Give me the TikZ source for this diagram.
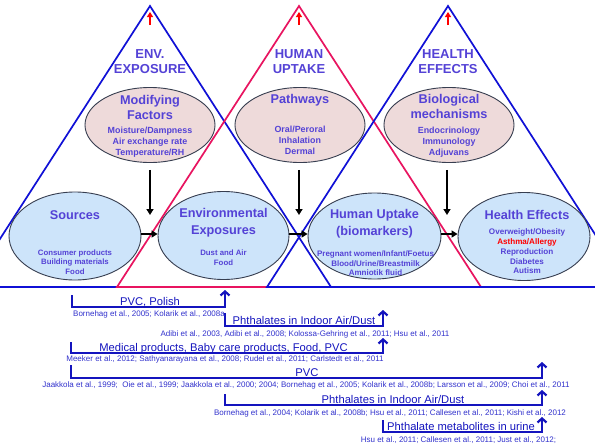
\documentclass[tikz,border=0pt]{standalone}
\usepackage{fontspec}
\setmainfont{Liberation Sans}
\usetikzlibrary{shapes.geometric,arrows.meta}

\definecolor{headblue}{RGB}{84,66,214}
\definecolor{triblue}{RGB}{16,16,214}
\definecolor{tripink}{RGB}{232,20,96}
\definecolor{linkblue}{RGB}{20,20,190}
\definecolor{citeblue}{RGB}{50,50,205}
\definecolor{mechfill}{RGB}{238,218,218}
\definecolor{stagefill}{RGB}{205,228,250}
\definecolor{rimgray}{RGB}{55,62,80}

\tikzset{
  tri/.style={line width=1.7pt, line join=miter},
  heading/.style={font=\fontsize{13}{15}\selectfont\bfseries, text=headblue, align=center, inner sep=0pt},
  mech/.style={ellipse, draw=rimgray, line width=0.9pt, fill=mechfill, minimum width=130pt, minimum height=75pt, inner sep=0pt},
  stage/.style={ellipse, draw=rimgray, line width=0.9pt, fill=stagefill, minimum width=132pt, minimum height=88pt, inner sep=0pt},
  bigtxt/.style={font=\fontsize{12.7}{15}\selectfont\bfseries, text=headblue, align=center, inner sep=0pt},
  bigtxtlow/.style={font=\fontsize{12.7}{17}\selectfont\bfseries, text=headblue, align=center, inner sep=0pt},
  smalltxt/.style={font=\fontsize{8.9}{11}\selectfont\bfseries, text=headblue, align=center, inner sep=0pt},
  subtxt/.style={font=\fontsize{8}{9.6}\selectfont\bfseries, text=headblue, align=center, inner sep=0pt},
  flow/.style={black, line width=2pt, -{Triangle[length=6pt,width=7pt]}},
  apexarrow/.style={red, line width=1.8pt, -{Triangle[length=5pt,width=6pt]}},
  bracket/.style={linkblue, line width=2.2pt, line join=miter, -{Straight Barb[length=4pt,width=9pt]}},
  source/.style={font=\fontsize{11.2}{13}\selectfont, text=linkblue, inner sep=0pt, anchor=base},
  cite/.style={font=\fontsize{8}{9}\selectfont, text=citeblue, inner sep=0pt, anchor=base},
}

\begin{document}
\begin{tikzpicture}[x=1pt,y=-1pt]
\useasboundingbox (0,0) rectangle (595,447);
\fill[white] (0,0) rectangle (595,447);
\clip (0,0) rectangle (595,447);

% three overlapping triangles: exposure, uptake, effects
\draw[tri, triblue] (8,287) -- (331,287) -- (150,6) -- (-31,287) -- cycle;
\draw[tri, tripink] (117,287) -- (481,287) -- (299,6) -- cycle;
\draw[tri, triblue] (267,287) -- (629,287) -- (448,6) -- cycle;

% apex markers
\coordinate (t1lo) at (150,25); \coordinate (t1hi) at (150,12);
\coordinate (t2lo) at (299,25); \coordinate (t2hi) at (299,12);
\coordinate (t3lo) at (448,25); \coordinate (t3hi) at (448,12);
\draw[apexarrow] (t1lo) -- (t1hi);
\draw[apexarrow] (t2lo) -- (t2hi);
\draw[apexarrow] (t3lo) -- (t3hi);

% triangle headings
\node[heading] (h1) at (150,61.5) {ENV.\\EXPOSURE};
\node[heading] (h2) at (299,61.5) {HUMAN\\UPTAKE};
\node[heading] (h3) at (448,61.5) {HEALTH\\EFFECTS};

% upper row: mechanisms
\node[mech] (mf) at (150,125) {};
\node[mech] (pw) at (300,125) {};
\node[mech] (bm) at (449,125) {};
\node[bigtxt] (mft) at (150,107.5) {Modifying\\Factors};
\node[smalltxt] (mfs) at (150,142) {Moisture/Dampness\\Air exchange rate\\Temperature/RH};
\node[bigtxt] (pwt) at (300,100) {Pathways};
\node[smalltxt] (pws) at (300,140) {Oral/Peroral\\Inhalation\\Dermal};
\node[bigtxt] (bmt) at (449,106.5) {Biological\\mechanisms};
\node[smalltxt] (bms) at (449,142) {Endocrinology\\Immunology\\Adjuvans};

% lower row: stages
\node[stage] (src) at (75,236) {};
\node[stage, minimum width=131pt] (env) at (223.5,235.5) {};
\node[stage, minimum width=133pt, minimum height=86pt] (hum) at (374.5,236) {};
\node[stage] (eff) at (524,236.5) {};
\node[bigtxt] (srct) at (75,215) {Sources};
\node[subtxt, font=\fontsize{7.8}{9.5}\selectfont\bfseries] (srcs) at (75,262) {Consumer products\\Building materials\\Food};
\node[bigtxtlow] (envt) at (223.5,222.5) {Environmental\\Exposures};
\node[subtxt, font=\fontsize{7.8}{9.5}\selectfont\bfseries] (envs) at (223.5,257.5) {Dust and Air\\Food};
\node[bigtxtlow] (humt) at (374.5,223.5) {Human Uptake\\(biomarkers)};
\node[subtxt] (hums) at (375.5,263.5) {Pregnant women/Infant/Foetus\\Blood/Urine/Breastmilk\\Amniotik fluid};
\node[bigtxt] (efft) at (527,215) {Health Effects};
\node[subtxt, font=\fontsize{8.1}{9.75}\selectfont\bfseries] (effs) at (527,251.6)
  {Overweight/Obesity\\\textcolor{red}{Asthma/Allergy}\\Reproduction\\Diabetes\\Autism};

% flow arrows
\coordinate (d1) at (150,215);
\coordinate (d2) at (299,215);
\coordinate (d3) at (447,215);
\draw[flow, shorten <=7pt] (mf.south) -- (d1);
\draw[flow, shorten <=7pt] (pw.south -| d2) -- (d2);
\draw[flow, shorten <=7pt] (bm.south -| d3) -- (d3);
\draw[flow] (src.east |- 0,234) -- (env.west |- 0,234);
\draw[flow] (env.east |- 0,234) -- (hum.west |- 0,234);
\draw[flow] (hum.east |- 0,234) -- (eff.west |- 0,234);

% evidence brackets
\coordinate (r1a) at (72,295);  \coordinate (r1c) at (225,307); \coordinate (r1b) at (225,290);
\coordinate (r2a) at (225,313); \coordinate (r2c) at (383,326); \coordinate (r2b) at (383,310);
\coordinate (r3a) at (71,342);  \coordinate (r3c) at (383,353); \coordinate (r3b) at (383,338);
\coordinate (r4a) at (71,365);  \coordinate (r4c) at (542,378); \coordinate (r4b) at (542,362);
\coordinate (r5a) at (225,394); \coordinate (r5c) at (542,405); \coordinate (r5b) at (542,390);
\coordinate (r6a) at (383,420); \coordinate (r6c) at (542,432); \coordinate (r6b) at (542,417);
\draw[bracket] (r1a) |- (r1c) -- (r1b);
\draw[bracket] (r2a) |- (r2c) -- (r2b);
\draw[bracket] (r3a) |- (r3c) -- (r3b);
\draw[bracket] (r4a) |- (r4c) -- (r4b);
\draw[bracket] (r5a) |- (r5c) -- (r5b);
\draw[bracket] (r6a) |- (r6c) -- (r6b);

\node[source] (s1) at (150,305) {PVC, Polish};
\node[cite] (c1) at (149,316) {Bornehag et al., 2005; Kolarik et al., 2008a};
\node[source] (s2) at (304,324) {Phthalates in Indoor Air/Dust};
\node[cite] (c2) at (305,336) {Adibi et al., 2003, Adibi et al., 2008; Kolossa-Gehring et al., 2011; Hsu et al., 2011};
\node[source] (s3) at (223.5,351) {Medical products, Baby care products, Food, PVC};
\node[cite] (c3) at (225,361) {Meeker et al., 2012; Sathyanarayana et al., 2008; Rudel et al., 2011; Carlstedt et al., 2011};
\node[source] (s4) at (307,376) {PVC};
\node[cite] (c4) at (306,387) {Jaakkola et al., 1999;\ \ Oie et al., 1999; Jaakkola et al., 2000; 2004; Bornehag et al., 2005; Kolarik et al., 2008b; Larsson et al., 2009; Choi et al., 2011};
\node[source] (s5) at (393,403) {Phthalates in Indoor Air/Dust};
\node[cite] (c5) at (390,415) {Bornehag et al., 2004; Kolarik et al., 2008b; Hsu et al., 2011; Callesen et al., 2011; Kishi et al., 2012};
\node[source] (s6) at (461,430) {Phthalate metabolites in urine};
\node[cite] (c6) at (458.5,442) {Hsu et al., 2011; Callesen et al., 2011; Just et al., 2012;};
\end{tikzpicture}
\end{document}
